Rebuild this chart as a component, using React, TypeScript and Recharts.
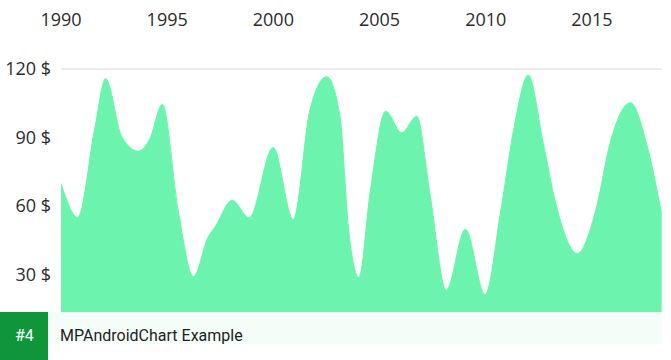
import { Area, AreaChart, CartesianGrid, XAxis, YAxis } from "recharts"

const years = [
  1990, 1990.79, 1991.6, 1992.1, 1992.86, 1993.64, 1994.19, 1994.77, 1995.52, 1996.23,
  1996.93, 1997.25, 1998.06, 1998.86, 1999.99, 2000.94, 2001.72, 2002.51, 2003.14, 2003.53,
  2004.03, 2004.55, 2005.29, 2006.04, 2006.75, 2007.37, 2008.14, 2009.04, 2009.97, 2010.71,
  2011.34, 2012.0, 2012.71, 2013.26, 2014.31, 2015.22, 2015.85, 2016.82, 2017.57, 2018.28,
]
const prices = [
  69.9, 55, 94.5, 115.8, 90.3, 84, 89.6, 104.5, 58, 29,
  46.5, 50.8, 62.5, 54.8, 85.6, 54, 102, 116.6, 99, 50.8,
  28.7, 65.5, 101.5, 92, 99.3, 65.5, 23.1, 49.8, 21.2, 58,
  94.7, 117.3, 87.4, 62.5, 39.2, 59.6, 87.4, 105.2, 87.4, 56.7,
]
const yearTicks = [1990, 1995, 2000, 2005, 2010, 2015]
const priceTicks = [30, 60, 90, 120]

const data = years.map((year, i) => ({ year, price: prices[i] }))

const FILL = "#6cf3ae"
const LABEL_FONT = "'Open Sans', 'Noto Sans', sans-serif"

function TopTick({ x, payload }: any) {
  return (
    <text x={x} y={26} textAnchor="middle" fontSize={18} fontFamily={LABEL_FONT} fill="#2b2b2b">
      {payload.value}
    </text>
  )
}

function LeftTick({ x, y, payload }: any) {
  return (
    <text x={x} y={y} dy="0.35em" textAnchor="end" fontSize={18} fontFamily={LABEL_FONT} fill="#2b2b2b">
      {`${payload.value} $`}
    </text>
  )
}

function RightTick({ x, y, payload }: any) {
  return (
    <text x={x} y={y} dy="0.35em" textAnchor="start" fontSize={18} fontFamily={LABEL_FONT} fill="#2b2b2b">
      {`${payload.value} $`}
    </text>
  )
}

export default function App() {
  return (
    <div style={{ position: "absolute", left: 0, top: 0, width: 671, height: 360, overflow: "hidden", background: "#fff" }}>
      <AreaChart width={671} height={360} data={data} margin={{ top: 0, right: 0, left: 0, bottom: 17 }}>
        <CartesianGrid vertical={false} stroke="#e6e6e6" strokeWidth={1.5} />
        <XAxis
          dataKey="year"
          type="number"
          orientation="top"
          domain={[1990, 2018.3]}
          allowDataOverflow
          ticks={yearTicks}
          height={69}
          axisLine={false}
          tickLine={false}
          tick={<TopTick />}
        />
        <YAxis
          yAxisId="left"
          domain={[0, 120]}
          ticks={priceTicks}
          width={61}
          axisLine={false}
          tickLine={false}
          tickSize={0}
          tickMargin={10}
          tick={<LeftTick />}
        />
        <YAxis
          yAxisId="right"
          orientation="right"
          domain={[0, 120]}
          ticks={[120]}
          width={9}
          axisLine={false}
          tickLine={false}
          tickSize={0}
          tickMargin={5}
          tick={<RightTick />}
        />
        <Area
          yAxisId="left"
          type="monotone"
          dataKey="price"
          stroke={FILL}
          strokeWidth={1}
          fill={FILL}
          fillOpacity={1}
          dot={false}
          activeDot={false}
          isAnimationActive={false}
        />
      </AreaChart>
      <div style={{ position: "absolute", left: 0, top: 312, width: 48, height: 48, background: "#10963a" }}>
        <span
          style={{
            position: "absolute", left: 15, top: 16, lineHeight: "16px",
            color: "#fff", fontFamily: "Roboto, sans-serif", fontSize: 16,
          }}
        >
          #4
        </span>
      </div>
      <div style={{ position: "absolute", left: 48, top: 312, width: 614, height: 32, background: "#f5fdf9" }}>
        <span
          style={{
            position: "absolute", left: 12, top: 16, lineHeight: "16px", whiteSpace: "nowrap",
            color: "#1e1e1e", fontFamily: "Roboto, sans-serif", fontSize: 16,
          }}
        >
          MPAndroidChart Example
        </span>
      </div>
    </div>
  )
}
